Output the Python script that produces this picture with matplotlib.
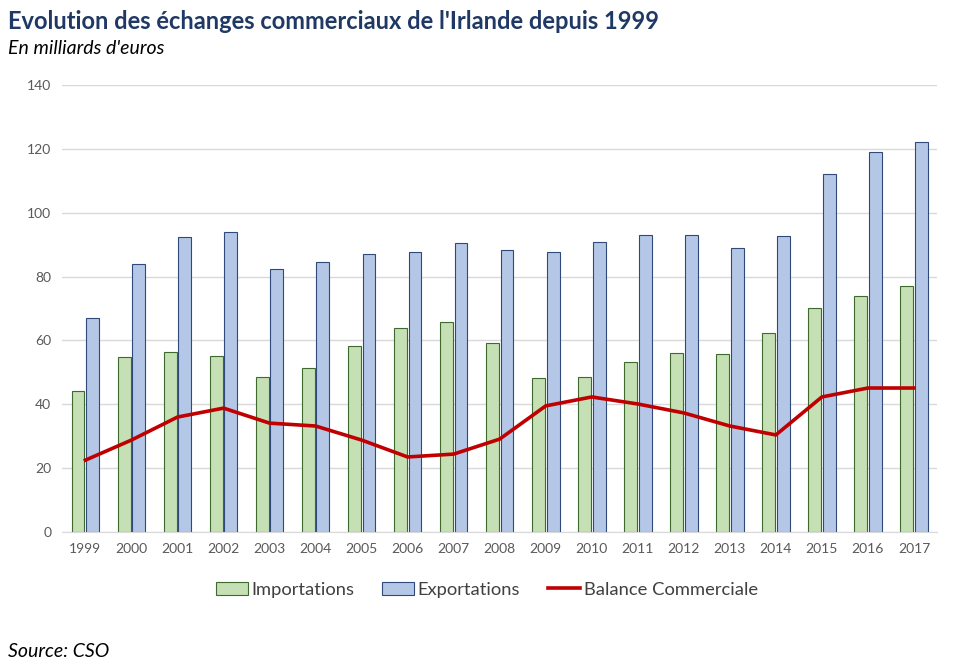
import numpy as np
import matplotlib
matplotlib.use("Agg")
import matplotlib.pyplot as plt
from matplotlib.lines import Line2D
from matplotlib.patches import Patch

plt.rcParams['font.family'] = ['Lato', 'DejaVu Sans']

years = ['1999', '2000', '2001', '2002', '2003', '2004', '2005', '2006', '2007', '2008',
         '2009', '2010', '2011', '2012', '2013', '2014', '2015', '2016', '2017']
importations = [44.2, 54.8, 56.4, 55.1, 48.5, 51.4, 58.3, 63.9, 65.8, 59.2,
                48.2, 48.5, 53.2, 56.1, 55.7, 62.3, 70.2, 73.9, 77.0]
exportations = [67.0, 83.9, 92.4, 94.0, 82.4, 84.6, 87.1, 87.7, 90.5, 88.3,
                87.7, 90.8, 93.0, 93.0, 88.9, 92.7, 112.1, 119.0, 122.1]
balance = [22.5, 28.8, 36.0, 38.8, 34.1, 33.2, 28.8, 23.5, 24.4, 29.1,
           39.5, 42.3, 40.1, 37.3, 33.2, 30.4, 42.3, 45.1, 45.1]

green_fill = '#C5E0B4'
green_edge = '#3F6A2E'
blue_fill = '#B4C7E7'
blue_edge = '#2F4A78'
red = '#C00000'

fig = plt.figure(figsize=(9.6, 6.7), dpi=100)
ax = fig.add_axes([0.065, 0.206, 0.911, 0.667])

x = np.arange(len(years))
w = 0.28
ax.bar(x - w / 2 - 0.02, importations, w, color=green_fill, edgecolor=green_edge, linewidth=0.8, zorder=2)
ax.bar(x + w / 2 + 0.02, exportations, w, color=blue_fill, edgecolor=blue_edge, linewidth=0.8, zorder=2)
ax.plot(x, balance, color=red, linewidth=2.6, zorder=3)

ax.set_xlim(-0.5, len(years) - 0.5)
ax.set_ylim(0, 140)
ax.set_yticks(range(0, 141, 20))
ax.set_xticks(x)
ax.set_xticklabels(years)
ax.tick_params(axis='both', length=0, labelsize=10, colors='#595959', pad=8)
ax.grid(axis='y', color='#D9D9D9', linewidth=1, zorder=0)
for s in ['top', 'right', 'left']:
    ax.spines[s].set_visible(False)
ax.spines['bottom'].set_color('#D9D9D9')

fig.text(0.008, 0.968, "Evolution des échanges commerciaux de l'Irlande depuis 1999",
         fontsize=17, fontweight='bold', color='#1F3864', va='center')
fig.text(0.008, 0.928, "En milliards d'euros", fontsize=14, style='italic', color='#000000', va='center')
fig.text(0.008, 0.027, "Source: CSO", fontsize=14, style='italic', color='#000000', va='center')

handles = [Patch(facecolor=green_fill, edgecolor=green_edge, linewidth=0.8),
           Patch(facecolor=blue_fill, edgecolor=blue_edge, linewidth=0.8),
           Line2D([0], [0], color=red, linewidth=2.6)]
labels = ['Importations', 'Exportations', 'Balance Commerciale']
fig.legend(handles, labels, loc='center', bbox_to_anchor=(0.507, 0.12), ncol=3, frameon=False,
           fontsize=13.2, handlelength=1.75, handleheight=0.7, handletextpad=0.2, columnspacing=1.5,
           labelcolor='#404040')

fig.savefig('out.png', dpi=100)
